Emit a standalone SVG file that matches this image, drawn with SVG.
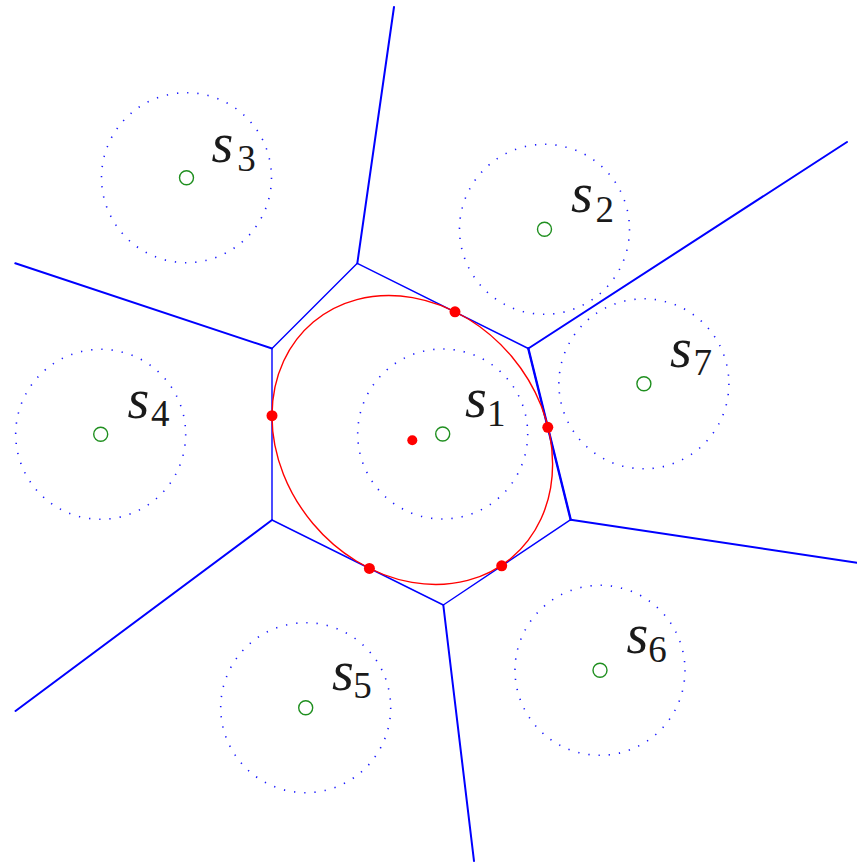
<svg xmlns="http://www.w3.org/2000/svg" width="857" height="862" viewBox="0 0 857 862">
<style>
.ray{stroke:#0000ff;stroke-width:2;fill:none;stroke-linecap:round}
.hex{stroke:#0000ff;stroke-width:1.4;fill:none;stroke-linejoin:round}
.dot{stroke:#1a1aff;stroke-width:1.6;fill:none;stroke-dasharray:1.3 8.97}
.site{stroke:#1f8f1f;stroke-width:1.4;fill:none}
.pt{fill:#ff0000}
text{font-family:"Times New Roman",Times,"Liberation Serif",Tinos,"DejaVu Serif",FreeSerif,serif;fill:#1a1a1a}
.s{font-style:italic;font-size:56px}
.n{font-size:37px}
</style>
<rect width="857" height="862" fill="#ffffff"/>
<g id="cells">
<polygon class="hex" points="357.3,263.3 528.3,348.5 570.7,519.7 443.3,605 272,520 272,348.5"/>
<line class="ray" x1="528.3" y1="348.5" x2="570.7" y2="519.7" style="stroke-width:2.4"/>
<line class="ray" x1="357.3" y1="263.3" x2="394" y2="7"/>
<line class="ray" x1="528.3" y1="348.5" x2="847" y2="142"/>
<line class="ray" x1="570.7" y1="519.7" x2="857" y2="562.7"/>
<line class="ray" x1="443.3" y1="605" x2="474" y2="861"/>
<line class="ray" x1="272" y1="520" x2="15.5" y2="711"/>
<line class="ray" x1="272" y1="348.5" x2="15.3" y2="263.3"/>
</g>
<g id="s1">
<circle class="dot" cx="442.7" cy="434" r="85"/>
<circle class="site" cx="442.7" cy="434" r="7"/>
<text class="s" x="465" y="416.5">s</text><text class="n" x="487" y="425.7">1</text>
</g>
<g id="s2">
<circle class="dot" cx="544.5" cy="229.3" r="85"/>
<circle class="site" cx="544.5" cy="229.3" r="7"/>
<text class="s" x="571" y="211.7">s</text><text class="n" x="595.5" y="221.5">2</text>
</g>
<g id="s3">
<circle class="dot" cx="186.5" cy="177.7" r="85"/>
<circle class="site" cx="186.5" cy="177.7" r="7"/>
<text class="s" x="211.5" y="162">s</text><text class="n" x="237.2" y="170.5">3</text>
</g>
<g id="s4">
<circle class="dot" cx="100.7" cy="434.3" r="85"/>
<circle class="site" cx="100.7" cy="434.3" r="7"/>
<text class="s" x="127.5" y="417.7">s</text><text class="n" x="151" y="426">4</text>
</g>
<g id="s5">
<circle class="dot" cx="305.7" cy="707.7" r="85"/>
<circle class="site" cx="305.7" cy="707.7" r="7"/>
<text class="s" x="332" y="690">s</text><text class="n" x="353.3" y="698.3">5</text>
</g>
<g id="s6">
<circle class="dot" cx="600" cy="670.3" r="85"/>
<circle class="site" cx="600" cy="670.3" r="7"/>
<text class="s" x="626.5" y="653.3">s</text><text class="n" x="648.3" y="662.3">6</text>
</g>
<g id="s7">
<circle class="dot" cx="643.9" cy="383.8" r="85"/>
<circle class="site" cx="643.9" cy="383.8" r="7"/>
<text class="s" x="670" y="367.3">s</text><text class="n" x="693.5" y="375">7</text>
</g>
<g id="ellipse">
<ellipse cx="412.3" cy="440" rx="154" ry="129.8" transform="rotate(50 412.3 440)" fill="none" stroke="#ff0000" stroke-width="1.4"/>
<circle class="pt" cx="412.3" cy="440.3" r="5"/>
<circle class="pt" cx="455" cy="311.8" r="5.5"/>
<circle class="pt" cx="547.8" cy="427.3" r="5.5"/>
<circle class="pt" cx="501.7" cy="565.8" r="5.5"/>
<circle class="pt" cx="369.4" cy="568.4" r="5.5"/>
<circle class="pt" cx="272" cy="415.7" r="5.5"/>
</g>
</svg>
